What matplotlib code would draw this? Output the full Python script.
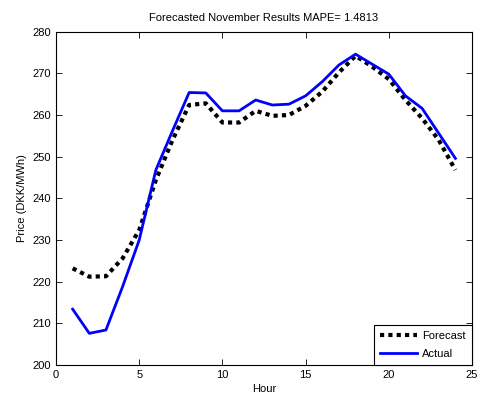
import numpy as np
import matplotlib.pyplot as plt

plt.rcParams['font.family'] = ['Liberation Sans', 'DejaVu Sans']

hours = np.arange(1, 25)
forecast = [223.2, 221.2, 221.3, 225.6, 232.4, 244.4, 254.0, 262.4, 262.8, 258.2, 258.2, 261.0,
            259.8, 260.0, 262.2, 265.6, 270.2, 274.2, 271.6, 268.6, 263.6, 259.2, 254.0, 246.8]
actual = [213.4, 207.6, 208.4, 218.8, 230.0, 246.8, 256.2, 265.4, 265.3, 261.0, 261.0, 263.6,
          262.4, 262.6, 264.6, 268.0, 272.0, 274.6, 272.2, 269.8, 264.6, 261.6, 255.6, 249.6]

fig = plt.figure(figsize=(4.94, 3.99), dpi=100)
ax = fig.add_axes([0.1134, 0.0852, 0.8421, 0.8354])

ax.plot(hours, forecast, color='black', linestyle=(0, (1, 1)), linewidth=3, label='Forecast')
ax.plot(hours, actual, color='#0000ff', linewidth=2, label='Actual')

ax.set_xlim(0, 25)
ax.set_ylim(200, 280)
ax.set_xticks(range(0, 26, 5))
ax.set_yticks(range(200, 281, 10))
ax.tick_params(direction='in', top=True, right=True, labelsize=8, length=4, width=0.6)
for s in ax.spines.values():
    s.set_linewidth(0.8)

ax.set_title('Forecasted November Results MAPE= 1.4813', fontsize=8, pad=8)
ax.set_xlabel('Hour', fontsize=8, labelpad=3)
ax.set_ylabel('Price (DKK/MWh)', fontsize=8, labelpad=4)

leg = ax.legend(loc='lower right', fontsize=8, borderaxespad=0, fancybox=False,
                framealpha=1, edgecolor='black', handlelength=3.4, borderpad=0.55,
                labelspacing=0.7, handletextpad=0.45)
leg.get_frame().set_linewidth(0.8)

fig.savefig('out.png', dpi=100)
